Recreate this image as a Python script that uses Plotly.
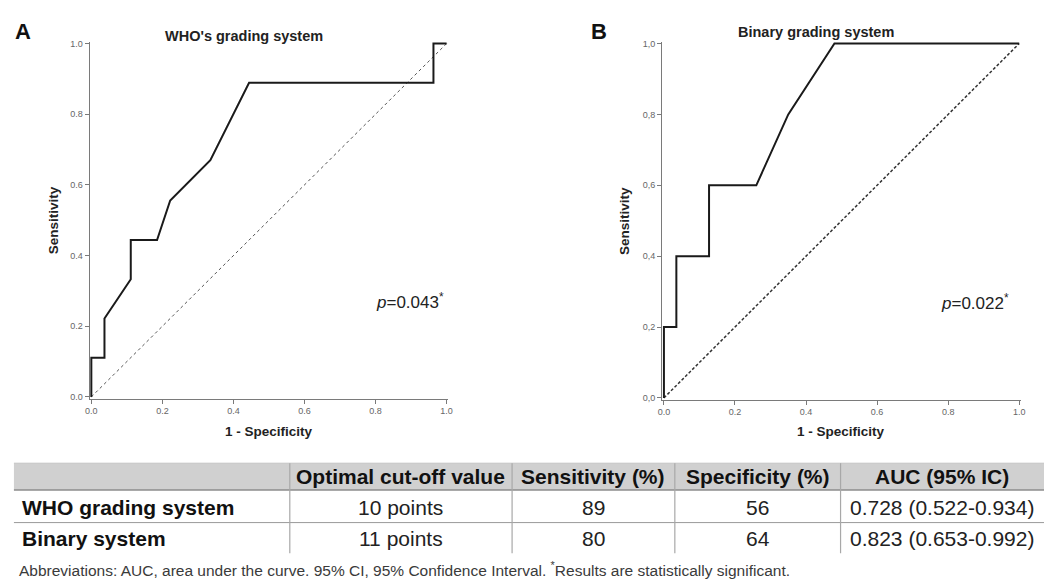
import plotly.graph_objects as go

# ---------------- data ----------------
who_fpr = [0, 0, 0.037, 0.037, 0.111, 0.111, 0.185, 0.222, 0.335, 0.444, 0.963, 0.963, 1.0]
who_tpr = [0, 0.111, 0.111, 0.222, 0.333, 0.444, 0.444, 0.556, 0.670, 0.889, 0.889, 1.0, 1.0]

bin_fpr = [0, 0, 0.035, 0.035, 0.127, 0.127, 0.26, 0.35, 0.48, 1.0]
bin_tpr = [0, 0.2, 0.2, 0.4, 0.4, 0.6, 0.6, 0.8, 1.0, 1.0]

ref_line = [0, 1]

tick_vals = [0, 0.2, 0.4, 0.6, 0.8, 1.0]
tick_text_dot = ["0.0", "0.2", "0.4", "0.6", "0.8", "1.0"]
tick_text_comma = ["0,0", "0,2", "0,4", "0,6", "0,8", "1,0"]

titles = ["WHO's grading system", "Binary grading system"]
panel_letters = ["A", "B"]
p_values = ["0.043", "0.022"]

table_header = ["", "Optimal cut-off value", "Sensitivity (%)", "Specificity (%)", "AUC (95% IC)"]
table_systems = ["WHO grading system", "Binary system"]
table_cutoff = ["10 points", "11 points"]
table_sens = ["89", "80"]
table_spec = ["56", "64"]
table_auc = ["0.728 (0.522-0.934)", "0.823 (0.653-0.992)"]

footnote = ("Abbreviations: AUC, area under the curve. 95% CI, 95% Confidence Interval. "
            "<sup>*</sup>Results are statistically significant.")

# ---------------- layout helpers ----------------
W, H = 1048, 581
PAD = 0.005
FONT = "Arial, Liberation Sans, sans-serif"


def px(x):
    return x / W


def py(y):
    return 1 - y / H


def xdom(px0, px1):
    span = px1 - px0
    return [(px0 - PAD * span) / W, (px1 + PAD * span) / W]


def ydom(py1, py0):  # py1 = pixel of value 1, py0 = pixel of value 0
    span = py0 - py1
    return [1 - (py0 + PAD * span) / H, 1 - (py1 - PAD * span) / H]


fig = go.Figure()

line_col = "#1a1a1a"
# Panel A
fig.add_trace(go.Scatter(x=ref_line, y=ref_line, mode="lines",
                         line=dict(color="#555", width=1, dash="dot"),
                         xaxis="x", yaxis="y", showlegend=False, hoverinfo="skip"))
fig.add_trace(go.Scatter(x=who_fpr, y=who_tpr, mode="lines",
                         line=dict(color=line_col, width=2),
                         xaxis="x", yaxis="y", showlegend=False))
# Panel B
fig.add_trace(go.Scatter(x=ref_line, y=ref_line, mode="lines",
                         line=dict(color="#333", width=1.5, dash="3px,2px"),
                         xaxis="x2", yaxis="y2", showlegend=False, hoverinfo="skip"))
fig.add_trace(go.Scatter(x=bin_fpr, y=bin_tpr, mode="lines",
                         line=dict(color=line_col, width=2),
                         xaxis="x2", yaxis="y2", showlegend=False))

axis_common = dict(range=[-PAD, 1 + PAD], showline=True, linecolor="#7a7a7a", linewidth=1,
                   ticks="outside", ticklen=4, tickcolor="#7a7a7a", tickwidth=1,
                   showgrid=False, zeroline=False, tickvals=tick_vals,
                   tickfont=dict(family=FONT, size=9, color="#666"), layer="below traces")

fig.update_layout(
    width=W, height=H, margin=dict(l=0, r=0, t=0, b=0),
    paper_bgcolor="white", plot_bgcolor="white",
    font=dict(family=FONT, color="#111"),
    xaxis=dict(domain=xdom(88, 446), anchor="y", ticktext=tick_text_dot, **axis_common),
    yaxis=dict(domain=ydom(41, 398), anchor="x", ticktext=tick_text_dot, **axis_common),
    xaxis2=dict(domain=xdom(665, 1023), anchor="y2", ticktext=tick_text_dot, **axis_common),
    yaxis2=dict(domain=ydom(41, 399), anchor="x2", ticktext=tick_text_comma, **axis_common),
)

ann = []
# panel letters and titles
for letter, lx, title, tx, ty in zip(panel_letters, [19, 600], titles, [242, 818], [33, 29]):
    ann.append(dict(text="<b>%s</b>" % letter, x=px(lx), y=py(29), xref="paper", yref="paper",
                    xanchor="center", yanchor="middle",
                    showarrow=False, font=dict(family=FONT, size=22, color="#111")))
    ann.append(dict(text="<b>%s</b>" % title, x=px(tx), y=py(ty), xref="paper", yref="paper",
                    xanchor="center", yanchor="middle",
                    showarrow=False, font=dict(family=FONT, size=14.5, color="#222")))
# axis titles
for sx, xx in zip([50, 626], [267, 843]):
    ann.append(dict(text="<b>Sensitivity</b>", x=px(sx), y=py(220), xref="paper", yref="paper",
                    xanchor="center", yanchor="middle",
                    textangle=-90, showarrow=False, font=dict(family=FONT, size=13.5, color="#222")))
    ann.append(dict(text="<b>1 - Specificity</b>", x=px(xx), y=py(433), xref="paper", yref="paper",
                    xanchor="center", yanchor="middle",
                    showarrow=False, font=dict(family=FONT, size=13.5, color="#222")))
# p-values
for pv, xr, yr, xe in zip(p_values, ["x", "x2"], ["y", "y2"], [0.997, 0.978]):
    ann.append(dict(text="<i>p</i>=%s<sup>*</sup>" % pv, x=xe, y=0.272, xref=xr, yref=yr,
                    xanchor="right", yanchor="middle", showarrow=False,
                    font=dict(family=FONT, size=17, color="#222")))

# ---------------- table (shapes + text) ----------------
col_edges = [10, 288, 512, 676, 843, 1048]
row_edges = [465, 492, 525, 556]
shapes = []
shapes.append(dict(type="rect", xref="paper", yref="paper", layer="below",
                   x0=px(col_edges[0]), x1=px(col_edges[-1]), y0=py(row_edges[1]), y1=py(row_edges[0]),
                   fillcolor="#d0d0d0", line=dict(width=0)))
shapes.append(dict(type="line", xref="paper", yref="paper",
                   x0=px(col_edges[0]), x1=px(col_edges[-1]), y0=py(row_edges[0]), y1=py(row_edges[0]),
                   line=dict(color="#c4c4c4", width=1)))
shapes.append(dict(type="line", xref="paper", yref="paper",
                   x0=px(col_edges[0]), x1=px(col_edges[-1]), y0=py(row_edges[1]), y1=py(row_edges[1]),
                   line=dict(color="#8c8c8c", width=1.5)))
shapes.append(dict(type="line", xref="paper", yref="paper",
                   x0=px(col_edges[0]), x1=px(col_edges[-1]), y0=py(row_edges[2]), y1=py(row_edges[2]),
                   line=dict(color="#9a9a9a", width=1)))
for cx in col_edges[1:-1]:
    shapes.append(dict(type="line", xref="paper", yref="paper",
                       x0=px(cx), x1=px(cx), y0=py(row_edges[-1]), y1=py(row_edges[0]),
                       line=dict(color="#a8a8a8", width=1.2)))
fig.update_layout(shapes=shapes)

col_centers = [(a + b) / 2 for a, b in zip(col_edges[:-1], col_edges[1:])]
header_y = 478
row_ys = [510, 541]
for i, h in enumerate(table_header):
    if h:
        ann.append(dict(text="<b>%s</b>" % h, x=px(col_centers[i]), y=py(header_y),
                        xref="paper", yref="paper", xanchor="center", yanchor="middle",
                        showarrow=False, font=dict(family=FONT, size=21, color="#111")))
columns = [table_cutoff, table_sens, table_spec, table_auc]
for r, ry in enumerate(row_ys):
    ann.append(dict(text="<b>%s</b>" % table_systems[r], x=px(16), y=py(ry),
                    xref="paper", yref="paper", xanchor="left", yanchor="middle",
                    showarrow=False, font=dict(family=FONT, size=21, color="#111")))
    for c, col in enumerate(columns):
        ann.append(dict(text=col[r], x=px(col_centers[c + 1]), y=py(ry),
                        xref="paper", yref="paper", xanchor="center", yanchor="middle",
                        showarrow=False, font=dict(family=FONT, size=21, color="#222")))

# footnote
ann.append(dict(text=footnote, x=px(13), y=py(572), xref="paper", yref="paper",
                xanchor="left", yanchor="middle", showarrow=False,
                font=dict(family=FONT, size=15.5, color="#3a3a3a")))
fig.update_layout(annotations=ann)

fig.write_html("out.html", config={"displayModeBar": False},
               post_script="document.body.style.margin='0';document.body.style.overflow='hidden';")
